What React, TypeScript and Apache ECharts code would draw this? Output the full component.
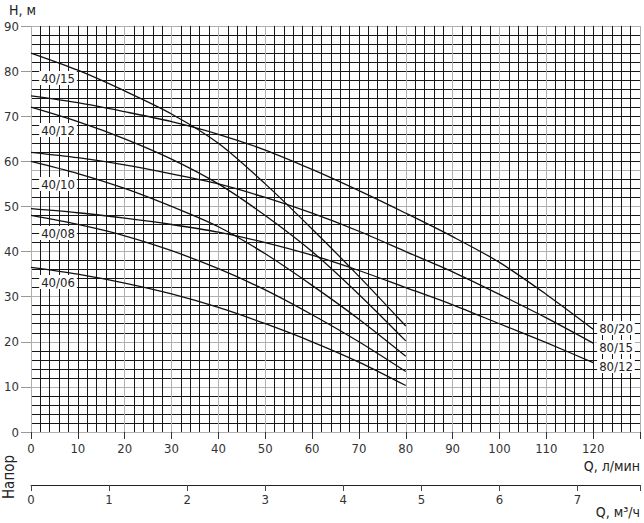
import React, { useEffect, useRef } from "react";
import * as echarts from "echarts";

// Flow, l/min
const flow40 = [0, 10, 20, 30, 40, 50, 60, 70, 80];
const flow80 = [0, 10, 20, 30, 40, 50, 60, 70, 80, 90, 100, 110, 120];

// Head, m
const h4015 = [84, 80.2, 75.6, 70.5, 64, 55, 45, 34.5, 23.5];
const h4012 = [72, 68.8, 65, 60.5, 55, 48, 40, 30.5, 20.2];
const h4010 = [60, 57.3, 54, 50, 45.5, 39.5, 32.5, 25, 16.8];
const h4008 = [48, 46, 43.5, 40.2, 36.2, 31.5, 26, 20, 13.4];
const h4006 = [36.5, 35, 33, 30.6, 27.6, 24, 20, 15.5, 10.3];
const h8020 = [74.5, 73, 71, 68.8, 66, 62.5, 58.2, 53.5, 48.5, 43.3, 37.6, 30.5, 22.8];
const h8015 = [62, 60.8, 59.2, 57.2, 55, 52, 48.5, 44.5, 40, 35.5, 30.5, 25.3, 19.7];
const h8012 = [49.5, 48.6, 47.4, 46, 44.3, 42, 39.2, 35.8, 32, 28.2, 24, 19.8, 15.4];

const seriesNames = ["40/15", "40/12", "40/10", "40/08", "40/06", "80/20", "80/15", "80/12"];

// Gridline shades as seen in the scanned chart
const grayX = [0, 20, 30, 40, 50, 80, 90, 100, 110, 130];
const grayY = [0, 10, 20, 30, 40, 50, 58, 90];

const FONT = "'Liberation Sans Narrow', 'DejaVu Sans Condensed', 'Liberation Sans', sans-serif";
const BLACK = "#161616";
const GRAY = "#b0b0b0";

function lineColors(max: number, step: number, gray: number[]) {
  const out: string[] = [];
  for (let v = 0; v <= max + 1e-9; v += step) {
    out.push(gray.some((g) => Math.abs(g - v) < 1e-6) ? GRAY : BLACK);
  }
  return out;
}

function pairs(xs: number[], ys: number[]) {
  return xs.map((x, i) => [x, ys[i]]);
}

export default function App() {
  const ref = useRef<HTMLDivElement>(null);

  useEffect(() => {
    document.body.style.margin = "0";
    if (!ref.current) return;
    const chart = echarts.init(ref.current, null, { renderer: "svg" });

    const curves = [
      pairs(flow40, h4015),
      pairs(flow40, h4012),
      pairs(flow40, h4010),
      pairs(flow40, h4008),
      pairs(flow40, h4006),
      pairs(flow80, h8020),
      pairs(flow80, h8015),
      pairs(flow80, h8012),
    ];

    const labelPos: Record<string, [number, number]> = {
      "40/15": [58, 78],
      "40/12": [58, 130],
      "40/10": [58, 184],
      "40/08": [58, 233],
      "40/06": [58, 282],
      "80/20": [616, 328],
      "80/15": [616, 347],
      "80/12": [616, 366],
    };

    const textStyle = (text: string, size: number) => ({
      text,
      font: `${size}px ${FONT}`,
      fill: "#222",
    });

    chart.setOption({
      animation: false,
      grid: {
        left: 31,
        right: 4,
        top: 26,
        bottom: 91,
        containLabel: false,
        outerBoundsMode: "none",
      },
      xAxis: [
        {
          type: "value",
          position: "bottom",
          min: 0,
          max: 130,
          interval: 2,
          axisLine: { show: false },
          axisTick: { show: false },
          axisLabel: { show: false },
          splitLine: {
            show: true,
            lineStyle: { color: lineColors(130, 2, grayX), width: 1 },
          },
        },
        {
          type: "value",
          position: "bottom",
          offset: 0,
          min: 0,
          max: 130,
          interval: 10,
          axisLine: { show: false },
          axisTick: { show: true, length: 7, lineStyle: { color: "#333" } },
          axisLabel: {
            show: true,
            margin: 10,
            fontFamily: FONT,
            fontSize: 13,
            color: "#333",
            formatter: (v: number) => (v >= 130 ? "" : String(v)),
          },
          splitLine: { show: false },
        },
        {
          type: "value",
          position: "bottom",
          min: 0,
          max: 7.8,
          interval: 1,
          offset: 53,
          axisLine: { show: true, lineStyle: { color: "#222", width: 1 } },
          axisTick: { show: true, length: 6, lineStyle: { color: "#444" } },
          axisLabel: {
            show: true,
            margin: 8,
            fontFamily: FONT,
            fontSize: 13,
            color: "#333",
            formatter: (v: number) => (Math.abs(v - Math.round(v)) > 1e-6 ? "" : String(v)),
          },
          splitLine: { show: false },
        },
      ],
      yAxis: [
        {
          type: "value",
          position: "left",
          min: 0,
          max: 90,
          interval: 2,
          axisLine: { show: false },
          axisTick: { show: false },
          axisLabel: { show: false },
          splitLine: {
            show: true,
            lineStyle: { color: lineColors(90, 2, grayY), width: 1 },
          },
        },
        {
          type: "value",
          position: "left",
          offset: 0,
          min: 0,
          max: 90,
          interval: 10,
          axisLine: { show: false },
          axisTick: { show: true, length: 10, lineStyle: { color: "#999" } },
          axisLabel: {
            show: true,
            margin: 12,
            fontFamily: FONT,
            fontSize: 13,
            color: "#333",
          },
          splitLine: { show: false },
        },
      ],
      series: curves.map((d, i) => ({
        name: seriesNames[i],
        type: "line",
        xAxisIndex: 0,
        yAxisIndex: 0,
        data: d,
        smooth: 0.3,
        showSymbol: false,
        symbol: "none",
        silent: true,
        lineStyle: { color: "#111", width: 1.3 },
        z: 5,
      })),
      graphic: [
        ...seriesNames.map((n) => ({
          type: "text",
          x: labelPos[n][0],
          y: labelPos[n][1],
          z: 100,
          style: {
            ...textStyle(n, 13),
            align: "center",
            verticalAlign: "middle",
            backgroundColor: "#fff",
            padding: [1, 2, 0, 2],
          },
        })),
        {
          type: "text",
          x: 9,
          y: 10,
          style: { ...textStyle("Н, м", 14), verticalAlign: "middle" },
        },
        {
          type: "text",
          x: 640,
          y: 466,
          style: { ...textStyle("Q, л/мин", 14), align: "right", verticalAlign: "middle" },
        },
        {
          type: "text",
          x: 640,
          y: 512,
          style: { ...textStyle("Q, м³/ч", 14), align: "right", verticalAlign: "middle" },
        },
        {
          type: "text",
          x: 9,
          y: 477,
          rotation: Math.PI / 2,
          style: { ...textStyle("Напор", 15), align: "center", verticalAlign: "middle" },
        },
      ],
    });

    return () => chart.dispose();
  }, []);

  return <div ref={ref} style={{ width: 644, height: 523 }} />;
}
